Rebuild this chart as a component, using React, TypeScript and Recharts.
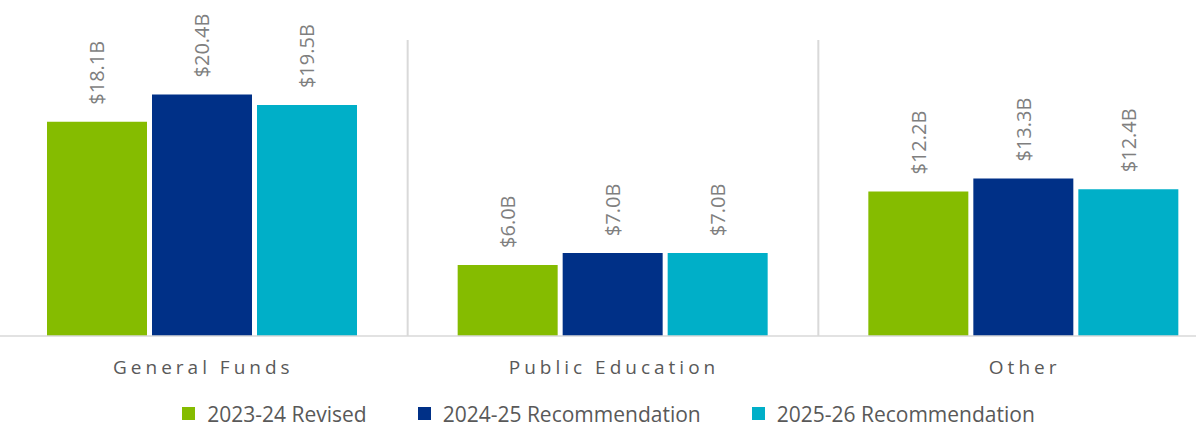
import React from 'react'
import { BarChart, Bar, XAxis, YAxis, Legend, LabelList, ReferenceLine } from 'recharts'

const categories = ['General Funds', 'Public Education', 'Other']
const revised2324 = [18.1, 6.0, 12.2]
const rec2425 = [20.4, 7.0, 13.3]
const rec2526 = [19.5, 7.0, 12.4]

const seriesNames = ['2023-24 Revised', '2024-25 Recommendation', '2025-26 Recommendation']
const seriesKeys = ['r2324', 'r2425', 'r2526']
const seriesColors = ['#85BC00', '#003087', '#00AFC8']

const data = categories.map((name, i) => ({
  name,
  r2324: revised2324[i],
  r2425: rec2425[i],
  r2526: rec2526[i],
}))

const FONT = '"Open Sans", "Noto Sans", sans-serif'

function ValueLabel(props: any) {
  const { x, y, width, value } = props
  const cx = Number(x) + Number(width) / 2
  const ty = Number(y) - 17
  return (
    <text
      x={cx}
      y={ty}
      transform={`rotate(-90, ${cx}, ${ty})`}
      textAnchor="start"
      dominantBaseline="central"
      fill="#7F7F7F"
      fontSize={20}
      fontFamily={FONT}
    >
      {`$${Number(value).toFixed(1)}B`}
    </text>
  )
}

function CategoryTick(props: any) {
  const { x, y, payload } = props
  return (
    <text
      x={x + 1}
      y={y + 30}
      textAnchor="middle"
      fill="#595959"
      fontSize={19}
      fontFamily={FONT}
      letterSpacing={4}
    >
      {payload.value}
    </text>
  )
}

function LegendContent() {
  return (
    <div
      style={{
        display: 'flex',
        justifyContent: 'center',
        alignItems: 'center',
        height: 50,
        paddingTop: 25,
        boxSizing: 'border-box',
        fontFamily: FONT,
        fontSize: 21,
        color: '#595959',
        paddingRight: 9,
      }}
    >
      {seriesNames.map((n, i) => (
        <div key={n} style={{ display: 'flex', alignItems: 'center', marginRight: i < 2 ? 51 : 0 }}>
          <span
            style={{
              display: 'inline-block',
              width: 13,
              height: 13,
              background: seriesColors[i],
              marginRight: 12,
            }}
          />
          <span>{n}</span>
        </div>
      ))}
    </div>
  )
}

export default function App() {
  return (
    <div
      style={{
        position: 'absolute',
        left: 0,
        top: 0,
        width: 1196,
        height: 426,
        overflow: 'hidden',
        background: '#fff',
      }}
    >
      <div style={{ marginLeft: -3 }}>
        <BarChart
          width={1232}
          height={426}
          data={data}
          margin={{ top: 40, right: 0, bottom: 0, left: 0 }}
          barCategoryGap={50}
          barGap={5}
        >
          <XAxis
            dataKey="name"
            height={40}
            tickLine={false}
            axisLine={{ stroke: '#D9D9D9', strokeWidth: 1.5 }}
            tick={<CategoryTick />}
            interval={0}
          />
          <YAxis hide domain={[0, 25]} />
          <ReferenceLine x="Public Education" position="start" stroke="#D9D9D9" strokeWidth={2} />
          <ReferenceLine x="Other" position="start" stroke="#D9D9D9" strokeWidth={2} />
          <Legend verticalAlign="bottom" height={50} content={<LegendContent />} />
          {seriesKeys.map((k, i) => (
            <Bar
              key={k}
              dataKey={k}
              name={seriesNames[i]}
              fill={seriesColors[i]}
              isAnimationActive={false}
            >
              <LabelList dataKey={k} content={<ValueLabel />} />
            </Bar>
          ))}
        </BarChart>
      </div>
    </div>
  )
}
